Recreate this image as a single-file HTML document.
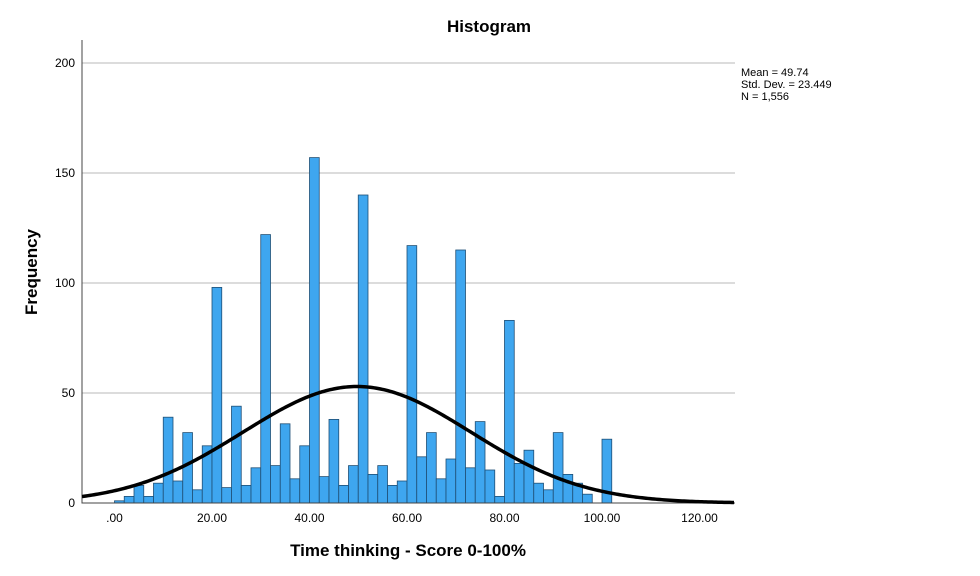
<!DOCTYPE html>
<html><head><meta charset="utf-8"><style>
body{margin:0;background:#fff;font-family:"Liberation Sans",Arial,sans-serif}
svg{display:block}
</style></head><body>
<svg id="chart" width="980" height="576">
<text x="489" y="32" text-anchor="middle" font-size="17" font-weight="bold">Histogram</text>
<g id="grid"></g><g id="bars"></g><g id="axes"></g>
<path id="curve" fill="none" stroke="#000" stroke-width="3.5"/>
<text x="408" y="556" text-anchor="middle" font-size="17" font-weight="bold">Time thinking - Score 0-100%</text>
<text transform="translate(37,272) rotate(-90)" text-anchor="middle" font-size="17" font-weight="bold">Frequency</text>
<g font-size="11">
<text x="741" y="76">Mean = 49.74</text><text x="741" y="88">Std. Dev. = 23.449</text><text x="741" y="100">N = 1,556</text></g>
</svg>
<script>
const binStarts=[0,2,4,6,8,10,12,14,16,18,20,22,24,26,28,30,32,34,36,38,40,42,44,46,48,50,52,54,56,58,60,62,64,66,68,70,72,74,76,78,80,82,84,86,88,90,92,94,96,98,100];
const counts=[1,3,8,3,9,39,10,32,6,26,98,7,44,8,16,122,17,36,11,26,157,12,38,8,17,140,13,17,8,10,117,21,32,11,20,115,16,37,15,3,83,18,24,9,6,32,13,9,4,0,29];
const yTicks=[0,50,100,150,200];
const xTicks=[0,20,40,60,80,100,120];
const xTickLabels=[".00","20.00","40.00","60.00","80.00","100.00","120.00"];
const mean=49.74, sd=23.449, N=1556, binW=2;
const NS="http://www.w3.org/2000/svg";
const L=82,R=735,T=40,B=503;
const xs=v=>114.5+v*4.875;
const ys=v=>B-v*2.2;
function mk(tag,attrs,parent){const e=document.createElementNS(NS,tag);for(const k in attrs)e.setAttribute(k,attrs[k]);document.getElementById(parent).appendChild(e);return e;}
yTicks.forEach(t=>{
 if(t>0){const g=mk('line',{x1:L,x2:R,y1:ys(t),y2:ys(t),stroke:'#c8c8c8','stroke-width':1.3},'grid');
 
 }
 const tx=mk('text',{x:75,y:ys(t)+4,'text-anchor':'end','font-size':12},'axes');tx.textContent=t;
 
 
});
binStarts.forEach((s,i)=>{
 if(!counts[i])return;
 const r=mk('rect',{x:xs(s),y:ys(counts[i]),width:xs(s+binW)-xs(s),height:B-ys(counts[i]),fill:'#3ea6ef',stroke:'#1f4f75','stroke-width':0.8},'bars');
 
 
});
xTicks.forEach((t,i)=>{
 const tx=mk('text',{x:xs(t),y:522,'text-anchor':'middle','font-size':12},'axes');tx.textContent=xTickLabels[i];
 
 
});
const ax=mk('path',{d:`M${L},${T}V${B}H${R}`,fill:'none',stroke:'#444','stroke-width':1},'axes');


let d='';
for(let px=L;px<=R;px+=2){const v=(px-114.5)/4.875;const f=N*binW*Math.exp(-0.5*((v-mean)/sd)**2)/(sd*Math.sqrt(2*Math.PI));d+=(d?'L':'M')+px+','+ys(f).toFixed(2);}
document.getElementById('curve').setAttribute('d',d);
</script>
</body></html>
